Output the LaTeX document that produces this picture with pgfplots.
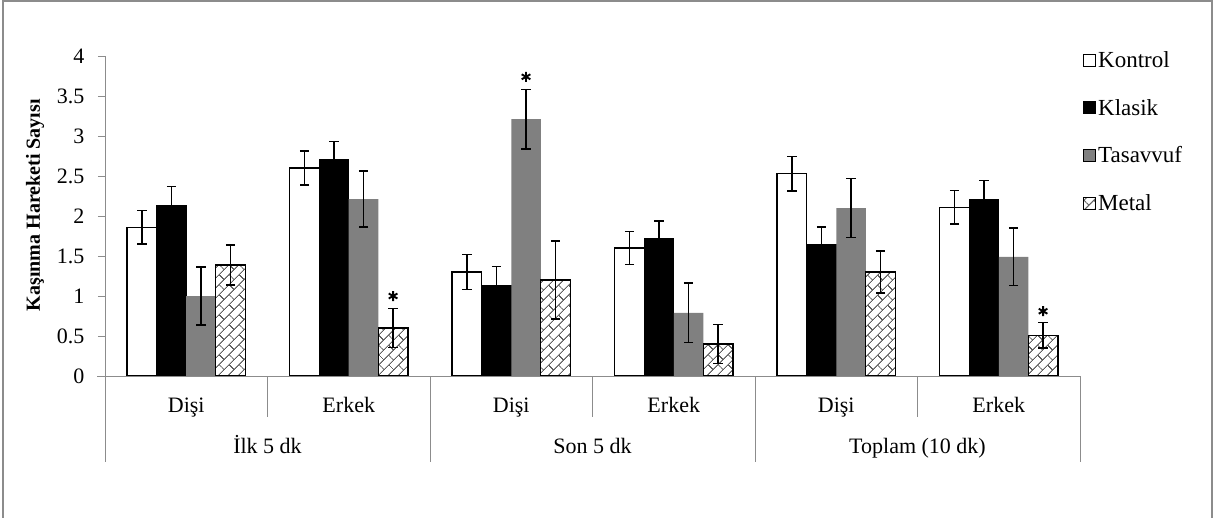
\documentclass[border=0pt]{standalone}
\usepackage{pgfplots}
\pgfplotsset{compat=1.18}
\usepackage{fontspec}
\setmainfont{Liberation Serif}
\usetikzlibrary{patterns.meta}
\definecolor{axgray}{HTML}{8C8C8C}
\definecolor{tasgray}{HTML}{808080}
\tikzdeclarepattern{
  name=diagbrick,
  type=uncolored,
  bottom left={(0pt,0pt)},
  top right={(14pt,14pt)},
  tile size={(14pt,14pt)},
  tile transformation={rotate=45},
  code={
    \draw[line width=1pt] (0pt,3.5pt) -- (14pt,3.5pt) (0pt,10.5pt) -- (14pt,10.5pt)
      (3.5pt,3.5pt) -- (3.5pt,10.5pt) (10.5pt,10.5pt) -- (10.5pt,14pt) (10.5pt,0pt) -- (10.5pt,3.5pt);
  }
}
\begin{document}
\begin{tikzpicture}[x=1pt,y=1pt]
\useasboundingbox (0,0) rectangle (1218,517);
\draw[axgray, line width=1.5pt] (3,-2) -- (3,516) -- (1212,516) -- (1212,-2);
\begin{axis}[
  at={(105pt,141pt)}, anchor=south west,
  width=975pt, height=320pt, scale only axis,
  xmin=-0.5, xmax=5.5, ymin=0, ymax=4,
  axis lines=left, axis line style={-, axgray, line width=1pt},
  xtick=\empty,
  ytick={0,0.5,1,1.5,2,2.5,3,3.5,4},
  yticklabels={0,0.5,1,1.5,2,2.5,3,3.5,4},
  tick align=outside, major tick length=7pt,
  ytick style={axgray, line width=1pt},
  tick label style={font=\fontsize{22}{22}\selectfont, black},
  yticklabel style={xshift=-10pt},
  /pgf/number format/assume math mode=true,
  ylabel={Kaşınma Hareketi Sayısı},
  ylabel style={at={(axis description cs:-0.0718,0.534)}, anchor=center, font=\bfseries\fontsize{20}{20}\selectfont},
  clip=false,
  legend style={draw=none, fill=none, at={(axis description cs:1.003,1.02)}, anchor=north west,
    font=\fontsize{23}{23}\selectfont, row sep=26pt, inner sep=0pt,
    /tikz/every even column/.append style={column sep=2pt}},
  legend cell align=left,
  legend image code/.code={\draw[#1, line width=1pt] (0pt,-6pt) rectangle (12pt,6pt);},
  error bars/y dir=both, error bars/y explicit,
  error bars/error bar style={draw=black, solid, line width=1.6pt},
  error bars/error mark options={draw=black, solid, line width=1.6pt, mark size=4.6pt, rotate=90},
]
\addplot[ybar, bar width=29.55pt, bar shift=0pt, draw=black, fill=white, line width=1.4pt]
  coordinates {(-0.2727,1.86) +- (0,0.21) (0.7273,2.60) +- (0,0.21) (1.7273,1.30) +- (0,0.22)
               (2.7273,1.60) +- (0,0.205) (3.7273,2.53) +- (0,0.215) (4.7273,2.11) +- (0,0.21)};
\addlegendentry{Kontrol}
\addplot[ybar, bar width=29.55pt, bar shift=0pt, draw=black, fill=black, line width=1.4pt]
  coordinates {(-0.0909,2.13) +- (0,0.24) (0.9091,2.71) +- (0,0.22) (1.9091,1.13) +- (0,0.24)
               (2.9091,1.72) +- (0,0.22) (3.9091,1.64) +- (0,0.22) (4.9091,2.20) +- (0,0.245)};
\addlegendentry{Klasik}
\addplot[ybar, bar width=29.55pt, bar shift=0pt, draw=none, fill=tasgray]
  coordinates {(0.0909,1.00) +- (0,0.36) (1.0909,2.21) +- (0,0.35) (2.0909,3.21) +- (0,0.37)
               (3.0909,0.79) +- (0,0.37) (4.0909,2.10) +- (0,0.37) (5.0909,1.49) +- (0,0.36)};
\addlegendentry{Tasavvuf}
\addplot[ybar, bar width=29.55pt, bar shift=0pt, draw=black, fill=white, line width=1.4pt,
    postaction={pattern={diagbrick}, pattern color=gray!75!black}]
  coordinates {(0.2727,1.39) +- (0,0.25) (1.2727,0.60) +- (0,0.245) (2.2727,1.20) +- (0,0.49)
               (3.2727,0.40) +- (0,0.245) (4.2727,1.30) +- (0,0.265) (5.2727,0.51) +- (0,0.16)};
\addlegendentry{Metal}
\addplot[only marks, mark=asterisk, mark size=5pt, line width=1.9pt, black, forget plot,
  error bars/y dir=none]
  coordinates {(1.2727,1.00) (2.0909,3.74) (5.2727,0.81)};
% category axis
\draw[axgray, line width=1pt] (axis cs:-0.5,0) ++(-8pt,0pt) -- (axis cs:5.5,0);
\pgfplotsinvokeforeach{-0.5,1.5,3.5,5.5}{\draw[axgray, line width=1pt] (axis cs:#1,0) -- ++(0pt,-86pt);}
\pgfplotsinvokeforeach{0.5,2.5,4.5}{\draw[axgray, line width=1pt] (axis cs:#1,0) -- ++(0pt,-41pt);}
\pgfplotsinvokeforeach{0,2,4}{\node[anchor=base, font=\fontsize{22}{22}\selectfont, inner sep=0pt] at ([yshift=-36pt]axis cs:#1,0) {Dişi};}
\pgfplotsinvokeforeach{1,3,5}{\node[anchor=base, font=\fontsize{22}{22}\selectfont, inner sep=0pt] at ([yshift=-36pt]axis cs:#1,0) {Erkek};}
\node[anchor=base, font=\fontsize{22}{22}\selectfont, inner sep=0pt] at ([yshift=-77pt]axis cs:0.5,0) {İlk 5 dk};
\node[anchor=base, font=\fontsize{22}{22}\selectfont, inner sep=0pt] at ([yshift=-77pt]axis cs:2.5,0) {Son 5 dk};
\node[anchor=base, font=\fontsize{22}{22}\selectfont, inner sep=0pt] at ([yshift=-77pt]axis cs:4.5,0) {Toplam (10 dk)};
\end{axis}
\end{tikzpicture}
\end{document}
